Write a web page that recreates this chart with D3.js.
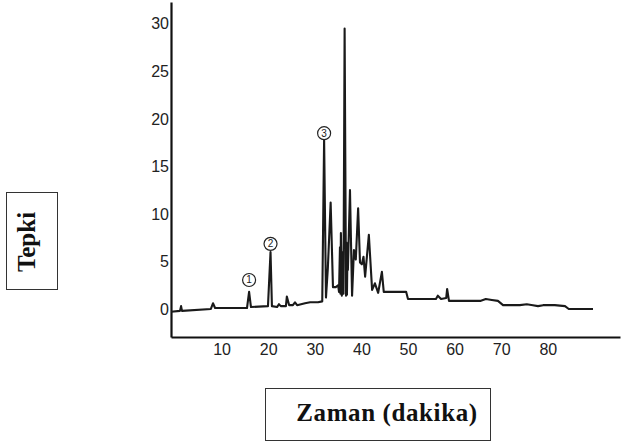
<!DOCTYPE html>
<html>
<head>
<meta charset="utf-8">
<script src="https://d3js.org/d3.v7.min.js"></script>
<style>
  body { margin: 0; background: #fff; }
  svg { display: block; }
</style>
</head>
<body>
<svg id="chart" width="624" height="446"></svg>
<script>
// retention time (dakika) and detector response (tepki)
const times = [-0.86, 1.07, 1.3, 1.5, 7.7, 8.15, 8.6, 15.45, 15.9, 16.3,
  19.95, 20.5, 20.8, 21.9, 22.3, 22.7, 23.8, 24.0, 24.5, 25.3,
  25.75, 26.2, 27.9, 29.0, 30.7, 31.6, 32.0, 32.4, 32.8, 33.4,
  33.9, 34.5, 35.0, 35.2, 35.4, 35.5, 35.6, 35.8, 36.0, 36.15,
  36.4, 36.7, 36.8, 36.9, 37.0, 37.1, 37.55, 38.0, 38.4, 38.8,
  39.3, 39.7, 40.1, 40.45, 40.8, 41.6, 42.3, 42.9, 43.6, 44.4,
  44.8, 46.1, 49.6, 50.0, 56.0, 56.4, 57.1, 58.2, 58.4, 58.8,
  65.5, 66.7, 68.0, 69.3, 70.4, 74.0, 75.5, 76.8, 77.9, 79.0,
  81.5, 83.7, 84.5, 89.7];
const response = [-0.3, -0.2, 0.3, -0.2, 0, 0.6, 0.1, 0.1, 1.8, 0.2,
  0.3, 6.0, 0.3, 0.2, 0.5, 0.3, 0.3, 1.3, 0.4, 0.4,
  0.7, 0.4, 0.6, 0.7, 0.7, 0.8, 17.8, 1.2, 4.3, 11.2,
  2.3, 2.3, 2.5, 1.8, 6.5, 1.6, 8.0, 1.4, 6.0, 1.6,
  29.5, 1.4, 7.0, 1.5, 5.5, 4.1, 12.5, 1.4, 6.2, 5.2,
  10.6, 4.9, 4.7, 5.5, 3.4, 7.8, 2.0, 2.7, 1.7, 3.9,
  1.8, 1.8, 1.8, 1.05, 1.05, 1.4, 1.05, 1.15, 2.1, 0.85,
  0.85, 1.05, 0.95, 0.85, 0.4, 0.4, 0.5, 0.4, 0.3, 0.4,
  0.4, 0.3, 0, 0];

const yTicks = [0, 5, 10, 15, 20, 25, 30];
const xTicks = [10, 20, 30, 40, 50, 60, 70, 80];

// numbered peaks: label, time, height of the circle
const peakLabels = ["1", "2", "3"];
const peakTimes = [15.9, 20.5, 32.0];
const peakMarks = [3.05, 6.85, 18.5];

const svg = d3.select("#chart");

const x = d3.scaleLinear().domain([-0.86, 95.5]).range([171, 620]);
const y = d3.scaleLinear().domain([-2.95, 32.3]).range([337, 2]);

const data = times.map((t, i) => ({ t: t, v: response[i] }));

// axes
const yAxis = svg.append("g")
  .attr("transform", "translate(171,0)")
  .call(d3.axisLeft(y).tickValues(yTicks).tickSize(0).tickPadding(2));
const xAxis = svg.append("g")
  .attr("transform", "translate(0,337)")
  .call(d3.axisBottom(x).tickValues(xTicks).tickSize(0).tickPadding(7));

[yAxis, xAxis].forEach(function(g) {
  g.select(".domain").attr("stroke", "#111").attr("stroke-width", 2.2);
  g.selectAll("text")
    .attr("fill", "#222")
    .style("font-family", "'Liberation Sans', Arial, sans-serif")
    .style("font-size", "16px");
});

// trace
svg.append("path")
  .datum(data)
  .attr("fill", "none")
  .attr("stroke", "#1a1a1a")
  .attr("stroke-width", 2.1)
  .attr("stroke-linejoin", "round")
  .attr("d", d3.line().x(d => x(d.t)).y(d => y(d.v)));

// circled peak numbers
peakLabels.forEach(function(lab, i) {
  const cx = x(peakTimes[i]), cy = y(peakMarks[i]);
  svg.append("circle")
    .attr("cx", cx).attr("cy", cy).attr("r", 6.5)
    .attr("fill", "#fff").attr("stroke", "#222").attr("stroke-width", 1.2);
  svg.append("text")
    .attr("x", cx).attr("y", cy + 3.5)
    .attr("text-anchor", "middle")
    .style("font-family", "'Liberation Sans', Arial, sans-serif")
    .style("font-size", "10px")
    .attr("fill", "#222")
    .text(lab);
});

// y label box
svg.append("rect")
  .attr("x", 6.5).attr("y", 192.5).attr("width", 51).attr("height", 97)
  .attr("fill", "none").attr("stroke", "#333").attr("stroke-width", 1);
svg.append("text")
  .attr("transform", "translate(35,242) rotate(-90)")
  .attr("text-anchor", "middle")
  .style("font-family", "'Liberation Serif', 'Times New Roman', serif")
  .style("font-weight", "bold")
  .style("font-size", "25px")
  .attr("fill", "#111")
  .text("Tepki");

// x label box
svg.append("rect")
  .attr("x", 265.5).attr("y", 388.5).attr("width", 225).attr("height", 52)
  .attr("fill", "none").attr("stroke", "#333").attr("stroke-width", 1);
svg.append("text")
  .attr("x", 387).attr("y", 421)
  .attr("text-anchor", "middle")
  .style("font-family", "'Liberation Serif', 'Times New Roman', serif")
  .style("font-weight", "bold")
  .style("font-size", "25px")
  .style("letter-spacing", "0.6px")
  .attr("fill", "#111")
  .text("Zaman (dakika)");
</script>
</body>
</html>
